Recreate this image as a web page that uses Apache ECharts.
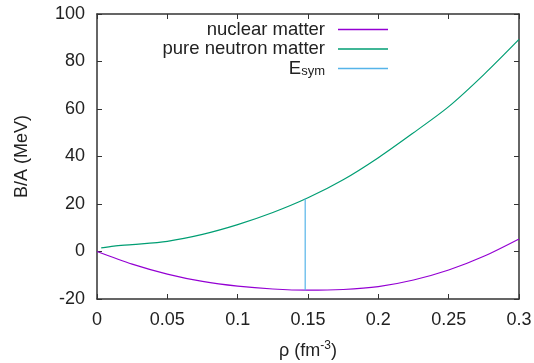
<!DOCTYPE html>
<html>
<head>
<meta charset="utf-8">
<script src="https://cdn.jsdelivr.net/npm/echarts@6/dist/echarts.min.js"></script>
<style>
html,body{margin:0;padding:0;background:#fff;}
#chart{width:534px;height:363px;}
</style>
</head>
<body>
<div id="chart"></div>
<script>
// Data
const nuclearRho = [0, 0.025, 0.05, 0.075, 0.1, 0.125, 0.15, 0.175, 0.2, 0.225, 0.25, 0.275, 0.3];
const nuclearE   = [0, -5.3, -9.5, -12.6, -14.6, -15.8, -16.3, -16.0, -14.8, -12.0, -7.8, -2.0, 5.3];
const neutronRho = [0.003, 0.012, 0.025, 0.05, 0.075, 0.1, 0.125, 0.15, 0.175, 0.2, 0.225, 0.25, 0.275, 0.3];
const neutronE   = [1.5, 2.3, 2.9, 4.3, 7.2, 11.3, 16.4, 22.6, 30.2, 39.5, 50.0, 61.0, 74.5, 89.3];
const esymRho = [0.148, 0.148];
const esymE   = [-16.3, 22.2];
const seriesNames = ['nuclear matter', 'pure neutron matter', 'E_sym'];
const seriesColors = ['#9400d3', '#009e73', '#56b4e9'];
const xTicks = [0, 0.3, 0.05];   // min, max, interval
const yTicks = [-20, 100, 20];

const zip = (a, b) => a.map((v, i) => [v, b[i]]);
const font = 'Liberation Sans, Arial, Helvetica, sans-serif';
const txt = '#222';
const axisCol = '#333';

const chart = echarts.init(document.getElementById('chart'), null, {renderer: 'canvas'});
const baseAxis = {
  axisLine: {show: true, onZero: false, lineStyle: {color: axisCol, width: 1.5}},
  axisTick: {show: true, inside: true, length: 5, lineStyle: {color: axisCol, width: 1}},
  splitLine: {show: false}
};
chart.setOption({
  animation: false,
  backgroundColor: '#fff',
  textStyle: {fontFamily: font},
  grid: {left: 97, right: 15, top: 14, bottom: 64, containLabel: false, outerBoundsMode: 'none'},
  legend: {
    orient: 'vertical',
    align: 'right',
    right: 141,
    top: 15,
    itemWidth: 50,
    itemHeight: 1.5,
    itemGap: 0.5,
    icon: 'rect',
    data: seriesNames.map((n, i) => ({name: n, itemStyle: {color: seriesColors[i]}})),
    textStyle: {
      fontSize: 18.5, color: txt, fontFamily: font, lineHeight: 18, padding: [0, 8, 0, 0],
      rich: {
        a: {fontSize: 18.5, color: txt, fontFamily: font, lineHeight: 18},
        sub: {fontSize: 13, color: txt, fontFamily: font, lineHeight: 18, verticalAlign: 'bottom'}
      }
    },
    formatter: n => n === 'E_sym' ? '{a|E}{sub|sym}' : n
  },
  xAxis: [
    Object.assign({}, baseAxis, {
      type: 'value', min: xTicks[0], max: xTicks[1], interval: xTicks[2],
      position: 'bottom',
      name: '{a|ρ (fm}{sup|-3}{a|)}',
      nameLocation: 'middle', nameGap: 41,
      nameTextStyle: {
        rich: {
          a: {fontSize: 18, color: txt, fontFamily: font, lineHeight: 22},
          sup: {fontSize: 12, color: txt, fontFamily: font, lineHeight: 22, verticalAlign: 'top', padding: [0, 0, 12, 0]}
        }
      },
      axisLabel: {fontSize: 18, color: txt, fontFamily: font, margin: 12}
    }),
    Object.assign({}, baseAxis, {
      type: 'value', min: xTicks[0], max: xTicks[1], interval: xTicks[2],
      position: 'top', axisLabel: {show: false}
    })
  ],
  yAxis: [
    Object.assign({}, baseAxis, {
      type: 'value', min: yTicks[0], max: yTicks[1], interval: yTicks[2],
      position: 'left',
      name: 'B/A (MeV)', nameLocation: 'middle', nameGap: 66, nameRotate: 90,
      nameTextStyle: {fontSize: 18, color: txt, fontFamily: font},
      axisLabel: {fontSize: 18, color: txt, fontFamily: font, margin: 12}
    }),
    Object.assign({}, baseAxis, {
      type: 'value', min: yTicks[0], max: yTicks[1], interval: yTicks[2],
      position: 'right', axisLabel: {show: false}
    })
  ],
  series: [
    {name: seriesNames[0], type: 'line', data: zip(nuclearRho, nuclearE), showSymbol: false,
     smooth: 0.3, lineStyle: {color: seriesColors[0], width: 1.2}, itemStyle: {color: seriesColors[0]}},
    {name: seriesNames[1], type: 'line', data: zip(neutronRho, neutronE), showSymbol: false,
     smooth: 0.3, lineStyle: {color: seriesColors[1], width: 1.2}, itemStyle: {color: seriesColors[1]}},
    {name: seriesNames[2], type: 'line', data: zip(esymRho, esymE), showSymbol: false,
     lineStyle: {color: seriesColors[2], width: 1.2}, itemStyle: {color: seriesColors[2]}}
  ]
});
</script>
</body>
</html>
